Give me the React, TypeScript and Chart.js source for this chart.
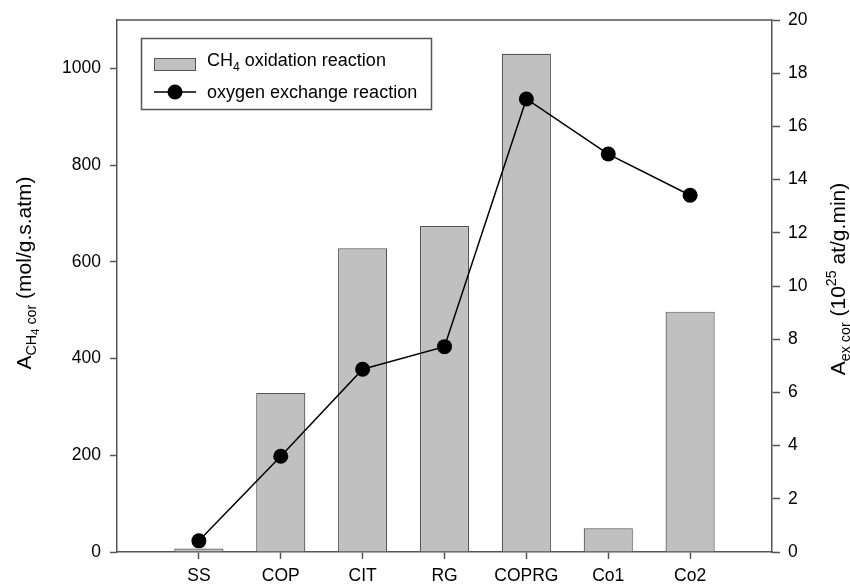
import { useEffect, useRef } from "react";
import { Chart, registerables } from "chart.js";

Chart.register(...registerables);

// Samples and their slot on the x axis
const samples = ["SS", "COP", "CIT", "RG", "COPRG", "Co1", "Co2"];
const samplePositions = [1, 2, 3, 4, 5, 6, 7];

// CH4 oxidation activity (mol/g.s.atm), left axis
const ch4Oxidation = [7, 329, 628, 674, 1030, 49, 497];
// Oxygen exchange activity (10^25 at/g.min), right axis
const oxygenExchange = [0.42, 3.6, 6.87, 7.72, 17.03, 14.96, 13.41];

const leftTicks = [0, 200, 400, 600, 800, 1000];
const rightTicks = [0, 2, 4, 6, 8, 10, 12, 14, 16, 18, 20];

const FONT = '"Liberation Sans", Arial, Helvetica, sans-serif';
const AXIS_GREY = "#555555";
const BAR_GREY = "#c0c0c0";

type Seg = { t: string; k?: "sub" | "subsub" | "sup" };

// Draws a run of text with sub/superscript pieces, centred on (x, y) or left-aligned
function drawRich(
  ctx: CanvasRenderingContext2D,
  segs: Seg[],
  size: number,
  x: number,
  y: number,
  rot: number,
  align: "center" | "left"
) {
  const sizeOf = (k?: string) =>
    k === "subsub" ? size * 0.55 : k ? size * 0.68 : size;
  const shiftOf = (k?: string) =>
    k === "sub" ? size * 0.25 : k === "subsub" ? size * 0.38 : k === "sup" ? -size * 0.42 : 0;
  ctx.save();
  ctx.translate(x, y);
  ctx.rotate(rot);
  ctx.fillStyle = "#000";
  ctx.textBaseline = "alphabetic";
  ctx.textAlign = "left";
  const widths = segs.map((s) => {
    ctx.font = `${sizeOf(s.k)}px ${FONT}`;
    return ctx.measureText(s.t).width;
  });
  const total = widths.reduce((a, b) => a + b, 0);
  let cx = align === "center" ? -total / 2 : 0;
  segs.forEach((s, i) => {
    ctx.font = `${sizeOf(s.k)}px ${FONT}`;
    ctx.fillText(s.t, cx, shiftOf(s.k));
    cx += widths[i];
  });
  ctx.restore();
}

const leftTitle: Seg[] = [
  { t: "A" },
  { t: "CH", k: "sub" },
  { t: "4", k: "subsub" },
  { t: " cor", k: "sub" },
  { t: " (mol/g.s.atm)" },
];

const rightTitle: Seg[] = [
  { t: "A" },
  { t: "ex cor", k: "sub" },
  { t: " (10" },
  { t: "25", k: "sup" },
  { t: " at/g.min)" },
];

const decorations = {
  id: "decorations",
  afterDraw(chart: Chart) {
    const ctx = chart.ctx;
    const area = chart.chartArea;

    // top edge of the frame
    ctx.save();
    ctx.strokeStyle = AXIS_GREY;
    ctx.lineWidth = 1.5;
    ctx.beginPath();
    ctx.moveTo(area.left, area.top);
    ctx.lineTo(area.right, area.top);
    ctx.stroke();
    ctx.restore();

    // axis titles
    drawRich(ctx, leftTitle, 21, 31, 273, -Math.PI / 2, "center");
    drawRich(ctx, rightTitle, 21, 845, 279, -Math.PI / 2, "center");

    // legend
    ctx.save();
    ctx.fillStyle = "#fff";
    ctx.fillRect(141.5, 38.5, 290, 71);
    ctx.strokeStyle = AXIS_GREY;
    ctx.lineWidth = 1.5;
    ctx.strokeRect(141.5, 38.5, 290, 71);

    ctx.fillStyle = BAR_GREY;
    ctx.fillRect(154.5, 58.5, 41, 12);
    ctx.strokeStyle = AXIS_GREY;
    ctx.lineWidth = 1;
    ctx.strokeRect(154.5, 58.5, 41, 12);

    ctx.strokeStyle = "#000";
    ctx.lineWidth = 1.5;
    ctx.beginPath();
    ctx.moveTo(154, 92);
    ctx.lineTo(196, 92);
    ctx.stroke();
    ctx.fillStyle = "#000";
    ctx.beginPath();
    ctx.arc(175, 92, 7.5, 0, Math.PI * 2);
    ctx.fill();
    ctx.restore();

    drawRich(
      ctx,
      [{ t: "CH" }, { t: "4", k: "sub" }, { t: " oxidation reaction" }],
      18,
      207,
      66,
      0,
      "left"
    );
    drawRich(ctx, [{ t: "oxygen exchange reaction" }], 18, 207, 98, 0, "left");
  },
};

export default function App() {
  const canvasRef = useRef<HTMLCanvasElement | null>(null);

  useEffect(() => {
    document.body.style.margin = "0";
    const canvas = canvasRef.current;
    if (!canvas) return;

    const tickFont = { family: FONT, size: 17.5 };

    const chart = new Chart(canvas, {
      type: "bar",
      data: {
        datasets: [
          {
            type: "line",
            label: "oxygen exchange reaction",
            data: samplePositions.map((x, i) => ({ x, y: oxygenExchange[i] })),
            yAxisID: "y1",
            borderColor: "#000",
            backgroundColor: "#000",
            borderWidth: 1.5,
            pointRadius: 7.5,
            pointBackgroundColor: "#000",
            pointBorderWidth: 0,
            tension: 0,
            order: 0,
          },
          {
            type: "bar",
            label: "CH4 oxidation reaction",
            data: samplePositions.map((x, i) => ({ x, y: ch4Oxidation[i] })),
            yAxisID: "y",
            backgroundColor: BAR_GREY,
            borderColor: AXIS_GREY,
            borderWidth: 1.2,
            barPercentage: 0.75,
            categoryPercentage: 0.8,
            order: 1,
          },
        ],
      } as any,
      options: {
        responsive: false,
        animation: false,
        devicePixelRatio: 1,
        layout: { padding: { top: 20, left: 0, right: 0, bottom: 0 } },
        plugins: {
          legend: { display: false },
          tooltip: { enabled: false },
        },
        scales: {
          x: {
            type: "linear",
            min: 0,
            max: 8,
            offset: false,
            afterBuildTicks: (scale: any) => {
              scale.ticks = samplePositions.map((v) => ({ value: v }));
            },
            afterFit: (scale: any) => {
              scale.height = 32;
            },
            border: { display: true, color: AXIS_GREY, width: 1.5 },
            grid: {
              display: true,
              offset: false,
              drawOnChartArea: false,
              drawTicks: true,
              tickLength: 7,
              tickColor: AXIS_GREY,
              tickWidth: 1.5,
            },
            ticks: {
              autoSkip: false,
              maxRotation: 0,
              padding: 7,
              color: "#000",
              font: tickFont,
              callback: (v: any) => samples[Number(v) - 1] ?? "",
            },
          },
          y: {
            type: "linear",
            position: "left",
            min: 0,
            max: 1100,
            afterBuildTicks: (scale: any) => {
              scale.ticks = leftTicks.map((v) => ({ value: v }));
            },
            afterFit: (scale: any) => {
              scale.width = 117;
            },
            border: { display: true, color: AXIS_GREY, width: 1.5 },
            grid: {
              display: true,
              drawOnChartArea: false,
              drawTicks: true,
              tickLength: 7,
              tickColor: AXIS_GREY,
              tickWidth: 1.5,
            },
            ticks: {
              padding: 9,
              color: "#000",
              font: tickFont,
              callback: (v: any) => String(v),
            },
          },
          y1: {
            type: "linear",
            position: "right",
            min: 0,
            max: 20,
            afterBuildTicks: (scale: any) => {
              scale.ticks = rightTicks.map((v) => ({ value: v }));
            },
            afterFit: (scale: any) => {
              scale.width = 78;
            },
            border: { display: true, color: AXIS_GREY, width: 1.5 },
            grid: {
              display: true,
              drawOnChartArea: false,
              drawTicks: true,
              tickLength: 8,
              tickColor: AXIS_GREY,
              tickWidth: 1.5,
            },
            ticks: {
              padding: 8,
              color: "#000",
              font: tickFont,
              callback: (v: any) => String(v),
            },
          },
        },
      } as any,
      plugins: [decorations],
    });

    return () => {
      chart.destroy();
    };
  }, []);

  return (
    <div style={{ width: 850, height: 584, background: "#fff" }}>
      <canvas ref={canvasRef} width={850} height={584} />
    </div>
  );
}
